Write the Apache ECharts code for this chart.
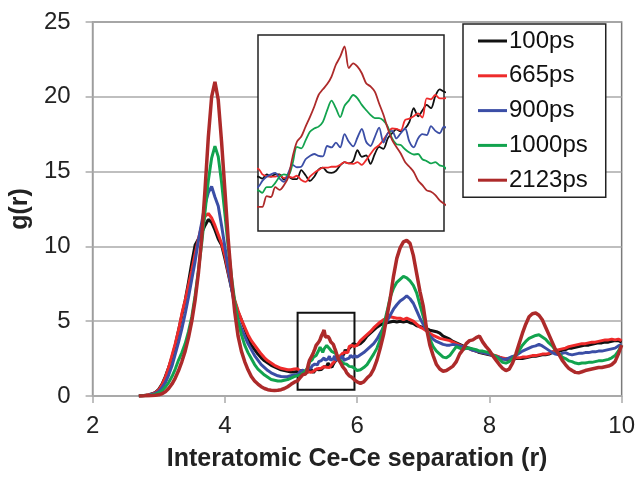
<!DOCTYPE html>
<html>
<head>
<meta charset="utf-8">
<script src="https://cdn.jsdelivr.net/npm/echarts@6/dist/echarts.min.js"></script>
<style>
html, body {margin: 0; padding: 0; background: #fff;}
#main {width: 638px; height: 477px;}
</style>
</head>
<body>
<div id="main"></div>
<script>
var names = ['100ps', '665ps', '900ps', '1000ps', '2123ps'];
var colors = ['#111111', '#ee2b2b', '#3b4ea6', '#12a34e', '#ad2a2a'];

// x grid: coarse around the peaks, finer inside the zoomed box
function steps(a, b, d) {
    var out = [];
    for (var i = 0; ; i++) {
        var v = +(a + i * d).toFixed(2);
        if (v > b + 1e-9) break;
        out.push(v);
    }
    return out;
}
var r = steps(2.70, 5.05, 0.05).concat(steps(5.10, 5.96, 0.02), steps(6.00, 10.00, 0.05));

var g100 = [
    // 2.70 - 5.05
    0.0, 0.02, 0.05, 0.08, 0.15, 0.25, 0.45, 0.8, 1.3, 1.9,
    2.6, 3.4, 4.4, 5.4, 6.4, 7.6, 8.9, 10.1, 10.5, 10.9,
    11.4, 11.8, 11.6, 11.1, 10.5, 10.1, 9.2, 8.2, 7.2, 6.3,
    5.6, 5.1, 4.5, 3.9, 3.4, 3.1, 2.8, 2.55, 2.35, 2.2,
    2.05, 1.95, 1.85, 1.75, 1.7, 1.65, 1.6, 1.6,
    // 5.10 - 5.96
    1.65, 1.61, 1.70, 1.65, 1.70, 1.70, 1.59, 1.65, 1.60, 1.60,
    1.79, 1.68, 1.56, 1.65, 1.80, 1.84, 1.75, 1.73, 1.77, 1.89,
    1.96, 1.93, 1.98, 2.21, 2.07, 2.10, 1.92, 2.13, 2.28, 2.24,
    2.46, 2.57, 2.65, 2.61, 2.67, 2.81, 3.10, 2.93, 3.05, 3.17,
    3.10, 3.36, 3.50, 3.45,
    // 6.00 - 10.00
    3.4, 3.5, 3.7, 4.0, 4.2, 4.4, 4.6, 4.75, 4.85, 4.9,
    4.95, 5.0, 4.95, 5.0, 4.95, 5.0, 4.9, 4.85, 4.7, 4.65,
    4.55, 4.5, 4.4, 4.35, 4.3, 4.2, 4.0, 3.9, 3.8, 3.65,
    3.55, 3.45, 3.35, 3.25, 3.2, 3.1, 3.0, 2.9, 2.85, 2.8,
    2.75, 2.7, 2.65, 2.6, 2.5, 2.45, 2.45, 2.45, 2.5, 2.5,
    2.5, 2.55, 2.6, 2.65, 2.65, 2.7, 2.75, 2.75, 2.8, 2.9,
    3.0, 3.0, 3.05, 3.1, 3.2, 3.2, 3.25, 3.3, 3.35, 3.4,
    3.4, 3.45, 3.5, 3.55, 3.55, 3.6, 3.6, 3.65, 3.7, 3.7,
    3.6
];

var g665 = [
    0.0, 0.02, 0.04, 0.08, 0.12, 0.22, 0.4, 0.75, 1.25, 1.9,
    2.7, 3.5, 4.4, 5.5, 6.4, 7.4, 8.4, 9.5, 10.5, 11.4,
    12.0, 12.2, 11.9, 11.4, 10.8, 10.2, 9.4, 8.3, 7.3, 6.4,
    5.7, 5.1, 4.6, 4.1, 3.7, 3.4, 3.1, 2.8, 2.55, 2.35,
    2.2, 2.05, 1.95, 1.85, 1.8, 1.75, 1.75, 1.8,
    1.82, 1.70, 1.66, 1.65, 1.65, 1.68, 1.62, 1.65, 1.63, 1.67,
    1.58, 1.54, 1.65, 1.73, 1.79, 1.84, 1.84, 1.86, 1.86, 1.90,
    1.96, 1.93, 1.92, 1.96, 1.90, 2.00, 2.13, 2.25, 2.32, 2.43,
    2.57, 2.67, 2.66, 2.63, 2.85, 2.88, 2.93, 2.99, 2.90, 3.31,
    3.29, 3.38, 3.31, 3.31,
    3.4, 3.7, 3.9, 4.1, 4.3, 4.55, 4.75, 4.95, 5.1, 5.2,
    5.3, 5.25, 5.2, 5.2, 5.1, 5.2, 5.1, 5.0, 4.8, 4.6,
    4.5, 4.35, 4.2, 4.05, 3.95, 3.85, 3.8, 3.75, 3.7, 3.6,
    3.5, 3.4, 3.3, 3.2, 3.15, 3.05, 3.0, 2.95, 2.9, 2.85,
    2.8, 2.75, 2.7, 2.6, 2.55, 2.5, 2.5, 2.5, 2.55, 2.55,
    2.6, 2.6, 2.65, 2.7, 2.7, 2.75, 2.8, 2.8, 2.85, 2.95,
    3.05, 3.1, 3.15, 3.2, 3.3, 3.35, 3.4, 3.45, 3.5, 3.5,
    3.55, 3.6, 3.6, 3.65, 3.7, 3.75, 3.75, 3.8, 3.75, 3.8,
    3.7
];

var g900 = [
    0.0, 0.01, 0.03, 0.05, 0.1, 0.18, 0.3, 0.55, 0.9, 1.4,
    2.0, 2.8, 3.6, 4.5, 5.5, 6.6, 7.8, 9.0, 10.4, 11.6,
    12.8, 13.6, 14.0, 13.3, 12.7, 11.4, 10.0, 8.5, 7.2, 6.0,
    5.1, 4.5, 4.0, 3.5, 3.1, 2.7, 2.4, 2.1, 1.9, 1.7,
    1.55, 1.45, 1.35, 1.3, 1.28, 1.3, 1.35, 1.4,
    1.43, 1.56, 1.65, 1.70, 1.73, 1.61, 1.54, 1.73, 1.90, 1.85,
    1.86, 2.02, 2.09, 2.13, 2.09, 2.08, 2.30, 2.27, 2.37, 2.27,
    2.55, 2.39, 2.29, 2.48, 2.66, 2.39, 2.30, 2.49, 2.69, 2.37,
    2.57, 2.62, 2.46, 2.57, 2.67, 2.39, 2.27, 2.46, 2.55, 2.53,
    2.72, 2.62, 2.57, 2.71,
    2.6, 2.75, 2.9, 3.1, 3.3, 3.5, 3.8, 4.2, 4.6, 5.0,
    5.4, 5.8, 6.1, 6.35, 6.5, 6.7, 6.5, 6.2, 5.7, 5.2,
    4.8, 4.4, 4.0, 3.8, 3.65, 3.55, 3.45, 3.4, 3.4, 3.45,
    3.4, 3.35, 3.3, 3.2, 3.15, 3.05, 3.0, 2.95, 2.9, 2.85,
    2.8, 2.7, 2.65, 2.55, 2.45, 2.45, 2.55, 2.65, 2.7, 2.85,
    3.0, 3.1, 3.2, 3.3, 3.35, 3.45, 3.35, 3.2, 3.05, 2.9,
    2.8, 2.75, 2.85, 2.9, 2.8, 2.75, 2.8, 2.85, 2.85, 2.9,
    2.9, 2.95, 2.95, 3.0, 3.0, 3.05, 3.1, 3.15, 3.2, 3.35,
    3.45
];

var g1000 = [
    0.0, 0.01, 0.02, 0.04, 0.07, 0.12, 0.2, 0.35, 0.6, 0.9,
    1.3, 1.8, 2.4, 2.9, 3.5, 4.3, 5.3, 6.7, 8.4, 10.2,
    12.3, 14.4, 15.9, 16.7, 16.0, 14.3, 12.2, 10.0, 8.0, 6.3,
    5.0, 4.1, 3.4, 2.9, 2.5, 2.1, 1.8, 1.6, 1.4, 1.25,
    1.1, 1.05, 1.0, 1.0, 1.05, 1.1, 1.2, 1.3,
    1.36, 1.31, 1.43, 1.43, 1.52, 1.65, 1.70, 1.68, 1.93, 2.28,
    2.25, 2.42, 2.60, 2.67, 2.71, 2.81, 3.06, 3.26, 3.10, 2.91,
    3.15, 3.26, 3.38, 3.31, 3.17, 3.06, 2.96, 2.89, 2.89, 2.84,
    2.71, 2.46, 2.34, 2.32, 2.23, 2.16, 2.12, 2.13, 2.02, 1.98,
    1.93, 1.96, 1.89, 1.86,
    1.7, 1.75, 1.9, 2.1, 2.45, 2.8, 3.2, 3.8, 4.7, 5.6,
    6.6, 7.2, 7.6, 7.8, 8.0, 7.9, 7.7, 7.4, 6.9, 6.1,
    5.3, 4.5, 3.8, 3.3, 3.0, 2.8, 2.6, 2.55, 2.7, 3.0,
    3.3, 3.2, 3.1, 3.2, 3.2, 3.15, 3.1, 3.0, 3.0, 2.95,
    2.9, 2.75, 2.65, 2.45, 2.25, 2.2, 2.3, 2.5, 2.75, 3.05,
    3.4, 3.65, 3.85, 3.95, 4.05, 4.1, 3.95, 3.8, 3.55, 3.35,
    3.05, 2.85, 2.6, 2.5, 2.35, 2.3, 2.2, 2.15, 2.2, 2.2,
    2.25, 2.25, 2.3, 2.35, 2.35, 2.4, 2.45, 2.55, 2.7, 3.0,
    3.4
];

var g2123 = [
    0.0, 0.0, 0.01, 0.02, 0.03, 0.05, 0.08, 0.15, 0.28, 0.5,
    0.8, 1.2, 1.7, 2.3, 3.0, 3.9, 5.0, 6.4, 8.2, 10.6,
    13.8, 17.3, 20.0, 21.0, 19.8, 17.0, 13.8, 10.5, 7.8, 5.6,
    4.0, 3.0, 2.3, 1.75, 1.3, 1.0, 0.8, 0.62, 0.5, 0.42,
    0.38, 0.36, 0.38, 0.42, 0.5, 0.62, 0.78, 0.92,
    1.01, 1.01, 1.24, 1.22, 1.43, 1.37, 1.47, 1.64, 2.07, 2.39,
    2.50, 2.71, 2.91, 3.13, 3.38, 3.50, 3.61, 3.77, 4.02, 4.19,
    4.41, 3.95, 4.05, 3.98, 3.84, 3.63, 3.56, 3.45, 3.20, 2.96,
    2.67, 2.43, 2.28, 2.14, 1.96, 1.86, 1.75, 1.57, 1.47, 1.36,
    1.33, 1.26, 1.15, 1.08,
    0.95, 0.85, 0.95, 1.2, 1.4, 1.8, 2.4, 3.2, 4.1, 5.3,
    6.5, 8.0, 9.2, 9.9, 10.3, 10.4, 10.2, 9.4, 8.2, 7.0,
    6.0, 4.5, 3.4, 2.7, 2.1, 1.8, 1.65, 1.7, 1.85, 2.0,
    2.3, 2.8, 3.1, 3.5, 3.7, 3.75, 3.9, 4.0, 3.6, 3.3,
    3.05, 2.7, 2.4, 2.1, 1.85, 1.7, 1.8, 2.2, 2.8, 3.5,
    4.2, 4.8, 5.3, 5.5, 5.55, 5.4, 5.1, 4.6, 4.1, 3.6,
    3.1, 2.8, 2.4, 2.1, 1.85, 1.7, 1.58, 1.55, 1.62, 1.7,
    1.75, 1.8, 1.85, 1.9, 1.9, 1.95, 2.0, 2.1, 2.3, 2.8,
    3.4
];

var values = [g100, g665, g900, g1000, g2123];
values.forEach(function (v, k) {
    if (v.length !== r.length) throw new Error(names[k] + ': ' + v.length + ' vs ' + r.length);
});

// zoom box (main axes) and inset ranges
var boxX = [5.1, 5.96];
var boxY = [0.41, 5.57];
var insetY = [0.5, 4.65];

var font = '"Liberation Sans", Arial, sans-serif';

function pairs(v) {
    return r.map(function (x, i) { return [x, v[i]]; });
}

var series = [];
values.forEach(function (v, k) {
    var s = {
        name: names[k],
        type: 'line',
        xAxisIndex: 0,
        yAxisIndex: 0,
        data: pairs(v),
        symbol: 'none',
        silent: true,
        color: colors[k],
        lineStyle: {color: colors[k], width: k === 4 ? 3.5 : 3}
    };
    if (k === 0) {
        s.markArea = {
            silent: true,
            itemStyle: {color: 'rgba(0,0,0,0)', borderColor: '#111', borderWidth: 2},
            data: [[{coord: [boxX[0], boxY[0]]}, {coord: [boxX[1], boxY[1]]}]]
        };
    }
    series.push(s);
});
values.forEach(function (v, k) {
    series.push({
        name: names[k],
        type: 'line',
        xAxisIndex: 1,
        yAxisIndex: 1,
        data: pairs(v),
        symbol: 'none',
        silent: true,
        z: 5,
        smooth: 0.3,
        color: colors[k],
        lineStyle: {color: colors[k], width: 1.8}
    });
});

var chart = echarts.init(document.getElementById('main'));
chart.setOption({
    animation: false,
    backgroundColor: '#fff',
    textStyle: {fontFamily: font},
    grid: [
        {left: 90, right: 16, top: 22, bottom: 75, show: true, borderColor: '#7a7a7a', borderWidth: 1.5},
        {left: 258, top: 35, width: 186, height: 196, show: true, z: 3,
         backgroundColor: '#fff', borderColor: '#222', borderWidth: 1.5}
    ],
    legend: {
        data: names,
        orient: 'vertical',
        left: 463,
        top: 24,
        padding: [5, 18, 5, 15],
        itemGap: 10.8,
        icon: 'rect',
        itemWidth: 29,
        itemHeight: 3,
        backgroundColor: '#fff',
        borderColor: '#222',
        borderWidth: 1.5,
        borderRadius: 0,
        selectedMode: false,
        textStyle: {fontSize: 24, color: '#111', fontFamily: font, lineHeight: 24, padding: [0, 0, 0, -3]}
    },
    xAxis: [
        {
            type: 'value', gridIndex: 0, min: 2, max: 10, interval: 2,
            name: 'Interatomic Ce-Ce separation (r)',
            nameLocation: 'middle', nameGap: 51,
            nameTextStyle: {fontSize: 25, fontWeight: 'bold', color: '#222', fontFamily: font},
            axisLine: {lineStyle: {color: '#aaa', width: 1.5}},
            axisTick: {length: 7, lineStyle: {color: '#aaa', width: 1.5}},
            axisLabel: {fontSize: 24, color: '#222', margin: 18, fontFamily: font},
            splitLine: {show: false}
        },
        {type: 'value', gridIndex: 1, min: boxX[0], max: boxX[1], show: false}
    ],
    yAxis: [
        {
            type: 'value', gridIndex: 0, min: 0, max: 25, interval: 5,
            name: 'g(r)',
            nameLocation: 'middle', nameGap: 48, nameRotate: 90,
            nameTextStyle: {fontSize: 25, fontWeight: 'bold', color: '#222', fontFamily: font},
            axisLine: {show: true, lineStyle: {color: '#aaa', width: 1.5}},
            axisTick: {show: true, length: 7, lineStyle: {color: '#aaa', width: 1.5}},
            axisLabel: {fontSize: 24, color: '#222', margin: 22, fontFamily: font},
            splitLine: {lineStyle: {color: '#aaa', width: 1.5}}
        },
        {type: 'value', gridIndex: 1, min: insetY[0], max: insetY[1], show: false}
    ],
    series: series
});

// connector from the zoom box up to the inset
var top = chart.convertToPixel({gridIndex: 0}, [5.32, boxY[1]]);
var bottom = chart.convertToPixel({xAxisIndex: 1, yAxisIndex: 1}, [boxX[0], insetY[0]]);
chart.setOption({
    graphic: [{
        type: 'line',
        silent: true,
        z: 10,
        shape: {x1: top[0], y1: bottom[1], x2: top[0], y2: top[1]},
        style: {stroke: '#111', lineWidth: 1.5}
    }]
});
</script>
</body>
</html>
